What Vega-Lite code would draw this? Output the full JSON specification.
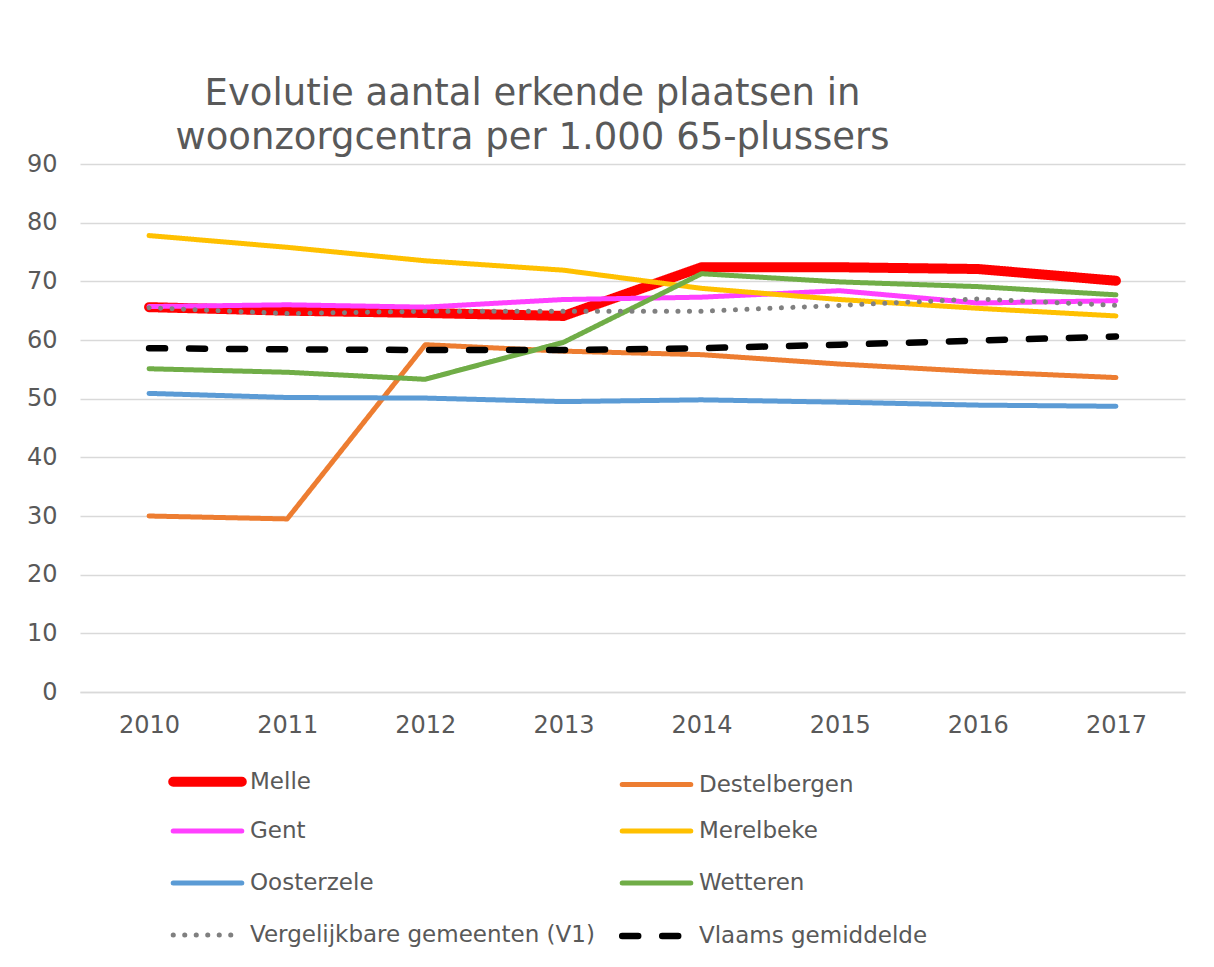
{
  "$schema": "https://vega.github.io/schema/vega-lite/v6.json",
  "autosize": "none",
  "width": 1105,
  "height": 528,
  "padding": {"left": 80, "top": 164, "right": 29, "bottom": 275},
  "background": "white",
  "title": {
    "text": ["Evolutie aantal erkende plaatsen in", "woonzorgcentra per 1.000 65-plussers"],
    "font": "DejaVu Sans",
    "fontSize": 37,
    "fontWeight": "normal",
    "color": "#595959",
    "lineHeight": 44,
    "anchor": "middle",
    "dx": -100,
    "offset": -5
  },
  "data": {
    "values": [
      {"year": "2010", "series": "Melle", "value": 65.6},
      {"year": "2011", "series": "Melle", "value": 65.0},
      {"year": "2012", "series": "Melle", "value": 64.6},
      {"year": "2013", "series": "Melle", "value": 64.1},
      {"year": "2014", "series": "Melle", "value": 72.4},
      {"year": "2015", "series": "Melle", "value": 72.4},
      {"year": "2016", "series": "Melle", "value": 72.1},
      {"year": "2017", "series": "Melle", "value": 70.1},
      {"year": "2010", "series": "Destelbergen", "value": 30.0},
      {"year": "2011", "series": "Destelbergen", "value": 29.5},
      {"year": "2012", "series": "Destelbergen", "value": 59.2},
      {"year": "2013", "series": "Destelbergen", "value": 58.1},
      {"year": "2014", "series": "Destelbergen", "value": 57.5},
      {"year": "2015", "series": "Destelbergen", "value": 55.9},
      {"year": "2016", "series": "Destelbergen", "value": 54.6},
      {"year": "2017", "series": "Destelbergen", "value": 53.6},
      {"year": "2010", "series": "Gent", "value": 65.7},
      {"year": "2011", "series": "Gent", "value": 66.0},
      {"year": "2012", "series": "Gent", "value": 65.6},
      {"year": "2013", "series": "Gent", "value": 66.9},
      {"year": "2014", "series": "Gent", "value": 67.3},
      {"year": "2015", "series": "Gent", "value": 68.4},
      {"year": "2016", "series": "Gent", "value": 66.3},
      {"year": "2017", "series": "Gent", "value": 66.7},
      {"year": "2010", "series": "Merelbeke", "value": 77.8},
      {"year": "2011", "series": "Merelbeke", "value": 75.8},
      {"year": "2012", "series": "Merelbeke", "value": 73.5},
      {"year": "2013", "series": "Merelbeke", "value": 71.9},
      {"year": "2014", "series": "Merelbeke", "value": 68.8},
      {"year": "2015", "series": "Merelbeke", "value": 66.9},
      {"year": "2016", "series": "Merelbeke", "value": 65.4},
      {"year": "2017", "series": "Merelbeke", "value": 64.1},
      {"year": "2010", "series": "Oosterzele", "value": 50.9},
      {"year": "2011", "series": "Oosterzele", "value": 50.2},
      {"year": "2012", "series": "Oosterzele", "value": 50.1},
      {"year": "2013", "series": "Oosterzele", "value": 49.5},
      {"year": "2014", "series": "Oosterzele", "value": 49.8},
      {"year": "2015", "series": "Oosterzele", "value": 49.4},
      {"year": "2016", "series": "Oosterzele", "value": 48.9},
      {"year": "2017", "series": "Oosterzele", "value": 48.7},
      {"year": "2010", "series": "Wetteren", "value": 55.1},
      {"year": "2011", "series": "Wetteren", "value": 54.5},
      {"year": "2012", "series": "Wetteren", "value": 53.3},
      {"year": "2013", "series": "Wetteren", "value": 59.6},
      {"year": "2014", "series": "Wetteren", "value": 71.3},
      {"year": "2015", "series": "Wetteren", "value": 69.9},
      {"year": "2016", "series": "Wetteren", "value": 69.1},
      {"year": "2017", "series": "Wetteren", "value": 67.7},
      {"year": "2010", "series": "Vergelijkbare gemeenten (V1)", "value": 65.5},
      {"year": "2011", "series": "Vergelijkbare gemeenten (V1)", "value": 64.5},
      {"year": "2012", "series": "Vergelijkbare gemeenten (V1)", "value": 64.9},
      {"year": "2013", "series": "Vergelijkbare gemeenten (V1)", "value": 64.9},
      {"year": "2014", "series": "Vergelijkbare gemeenten (V1)", "value": 64.9},
      {"year": "2015", "series": "Vergelijkbare gemeenten (V1)", "value": 65.9},
      {"year": "2016", "series": "Vergelijkbare gemeenten (V1)", "value": 67.0},
      {"year": "2017", "series": "Vergelijkbare gemeenten (V1)", "value": 65.9},
      {"year": "2010", "series": "Vlaams gemiddelde", "value": 58.6},
      {"year": "2011", "series": "Vlaams gemiddelde", "value": 58.4},
      {"year": "2012", "series": "Vlaams gemiddelde", "value": 58.3},
      {"year": "2013", "series": "Vlaams gemiddelde", "value": 58.3},
      {"year": "2014", "series": "Vlaams gemiddelde", "value": 58.6},
      {"year": "2015", "series": "Vlaams gemiddelde", "value": 59.2},
      {"year": "2016", "series": "Vlaams gemiddelde", "value": 59.9},
      {"year": "2017", "series": "Vlaams gemiddelde", "value": 60.6}
    ]
  },
  "mark": {"type": "line", "strokeCap": "round", "strokeJoin": "round"},
  "encoding": {
    "x": {
      "field": "year",
      "type": "ordinal",
      "scale": {"type": "point", "padding": 0.5},
      "axis": {
        "title": null,
        "labelAngle": 0,
        "labelFont": "DejaVu Sans",
        "labelFontSize": 24,
        "labelColor": "#595959",
        "labelPadding": 21,
        "ticks": false,
        "domainColor": "#d9d9d9",
        "domainWidth": 1.5,
        "grid": false
      }
    },
    "y": {
      "field": "value",
      "type": "quantitative",
      "scale": {"domain": [0, 90], "nice": false},
      "axis": {
        "title": null,
        "values": [0, 10, 20, 30, 40, 50, 60, 70, 80, 90],
        "labelFont": "DejaVu Sans",
        "labelFontSize": 24,
        "labelColor": "#595959",
        "labelPadding": 23,
        "ticks": false,
        "domain": false,
        "gridColor": "#d9d9d9",
        "gridWidth": 1.5
      }
    },
    "color": {
      "field": "series",
      "type": "nominal",
      "sort": null,
      "scale": {
        "domain": ["Melle", "Destelbergen", "Gent", "Merelbeke", "Oosterzele", "Wetteren", "Vergelijkbare gemeenten (V1)", "Vlaams gemiddelde"],
        "range": ["#FF0000", "#ED7D31", "#FF40FF", "#FFC000", "#5B9BD5", "#70AD47", "#808080", "#000000"]
      },
      "legend": {
        "title": null,
        "orient": "none",
        "legendX": 98,
        "legendY": 588,
        "direction": "horizontal",
        "columns": 2,
        "columnPadding": 14,
        "rowPadding": 2,
        "gridAlign": "all",
        "symbolType": "M-1.4,0H1.4",
        "symbolSize": 2401,
        "labelFont": "DejaVu Sans",
        "labelFontSize": 23,
        "labelColor": "#595959",
        "labelOffset": 13,
        "labelLimit": 500,
        "encode": {"symbols": {"update": {"strokeCap": {"value": "round"}, "fillOpacity": {"value": 0}}}}
      }
    },
    "strokeDash": {
      "field": "series",
      "type": "nominal",
      "sort": null,
      "scale": {
        "domain": ["Melle", "Destelbergen", "Gent", "Merelbeke", "Oosterzele", "Wetteren", "Vergelijkbare gemeenten (V1)", "Vlaams gemiddelde"],
        "range": [[1, 0], [1, 0], [1, 0], [1, 0], [1, 0], [1, 0], [0.1, 11.4], [16, 24]]
      }
    },
    "strokeWidth": {
      "field": "series",
      "type": "nominal",
      "sort": null,
      "scale": {
        "type": "ordinal",
        "domain": ["Melle", "Destelbergen", "Gent", "Merelbeke", "Oosterzele", "Wetteren", "Vergelijkbare gemeenten (V1)", "Vlaams gemiddelde"],
        "range": [10, 5, 5, 5, 5, 5, 5, 6.5]
      }
    }
  },
  "config": {"view": {"stroke": null}}
}
